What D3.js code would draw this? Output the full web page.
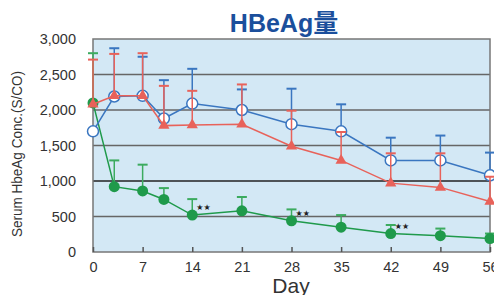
<!DOCTYPE html>
<html>
<head>
<meta charset="utf-8">
<script src="https://cdn.jsdelivr.net/npm/d3@7"></script>
<style>
  body { margin: 0; background: #fff; }
  svg { display: block; font-family: "Liberation Sans", Arial, sans-serif; }
</style>
</head>
<body>
<svg id="chart" width="494" height="295"></svg>
<script>
// days on x axis
const days = [0, 3, 7, 10, 14, 21, 28, 35, 42, 49, 56];
const xTicks = [0, 7, 14, 21, 28, 35, 42, 49, 56];
const yTicks = [0, 500, 1000, 1500, 2000, 2500, 3000];

// means and upper error bar ends (S/CO)
const blueVals = [1700, 2190, 2200, 1880, 2090, 2000, 1800, 1700, 1290, 1290, 1080];
const blueUpper = [null, 2870, 2750, 2420, 2580, 2290, 2300, 2080, 1610, 1640, 1400];
const redVals = [2080, 2200, 2200, 1780, 1790, 1800, 1490, 1290, 970, 910, 710];
const redUpper = [2710, 2790, 2800, 2340, 2270, 2360, 1990, 1690, 1390, 1390, 1060];
const greenVals = [2100, 920, 860, 740, 520, 580, 440, 350, 260, 230, 190];
const greenUpper = [2800, 1290, 1230, 900, 745, 775, 600, 520, 380, 330, 260];
const starDays = [14, 28, 42, 56];

const svg = d3.select("#chart");
const margin = { top: 39, right: 4, bottom: 43, left: 93 };
const width = 494 - margin.left - margin.right;
const height = 295 - margin.top - margin.bottom;

const x = d3.scaleLinear().domain([0, 56]).range([0, 397]);
const y = d3.scaleLinear().domain([0, 3000]).range([height, 0]);

// title
svg.append("text")
  .attr("x", 284).attr("y", 32)
  .attr("text-anchor", "middle")
  .attr("font-size", 25).attr("font-weight", "bold")
  .attr("fill", "#1b4f9c")
  .attr("font-family", "'Liberation Sans', 'Noto Sans CJK JP', sans-serif")
  .text("HBeAg量");

const g = svg.append("g").attr("transform", `translate(${margin.left},${margin.top})`);

g.append("rect")
  .attr("width", x(56)).attr("height", height)
  .attr("fill", "#d3e8f5");

// grid lines
g.selectAll(".grid")
  .data(yTicks.filter(d => d > 0 && d < 3000))
  .join("line")
  .attr("x1", 0).attr("x2", x(56))
  .attr("y1", d => y(d)).attr("y2", d => y(d))
  .attr("stroke", d => d === 1000 ? "#222" : "#666")
  .attr("stroke-width", 1.5);

// frame
g.append("rect")
  .attr("width", x(56)).attr("height", height)
  .attr("fill", "none").attr("stroke", "#777").attr("stroke-width", 1.5);

// y axis labels
g.selectAll(".ylab")
  .data(yTicks)
  .join("text")
  .attr("x", -17).attr("y", d => y(d) + 5)
  .attr("text-anchor", "end")
  .attr("font-size", 14.5).attr("fill", "#333")
  .text(d => d3.format(",")(d));

// x ticks
const xAxis = d3.axisBottom(x).tickValues(xTicks).tickSize(-5).tickPadding(10);
const xa = g.append("g").attr("transform", `translate(0,${height})`).call(xAxis);
xa.select(".domain").remove();
xa.selectAll(".tick line").attr("stroke", "#555").attr("stroke-width", 1.5);
xa.selectAll(".tick text").attr("font-size", 14.5).attr("fill", "#333")
  .attr("font-family", "'Liberation Sans', Arial, sans-serif");

// axis titles
svg.append("text")
  .attr("transform", "translate(22,154) rotate(-90)")
  .attr("text-anchor", "middle")
  .attr("font-size", 14).attr("fill", "#333")
  .attr("textLength", 166).attr("lengthAdjust", "spacingAndGlyphs")
  .text("Serum HbeAg Conc.(S/CO)");

svg.append("text")
  .attr("x", 291).attr("y", 293)
  .attr("text-anchor", "middle")
  .attr("font-size", 21).attr("fill", "#333")
  .text("Day");

const line = d3.line().x(d => x(d[0])).y(d => y(d[1]));

function drawSeries(vals, upper, color, barColor) {
  const pts = days.map((d, i) => [d, vals[i], upper[i]]);
  const bars = g.append("g");
  pts.filter(p => p[2] != null).forEach(p => {
    bars.append("line")
      .attr("x1", x(p[0])).attr("x2", x(p[0]))
      .attr("y1", y(p[1])).attr("y2", y(p[2]))
      .attr("stroke", barColor).attr("stroke-width", 1.5);
    bars.append("line")
      .attr("x1", x(p[0]) - 5).attr("x2", x(p[0]) + 5)
      .attr("y1", y(p[2])).attr("y2", y(p[2]))
      .attr("stroke", barColor).attr("stroke-width", 2);
  });
  g.append("path").datum(pts)
    .attr("d", line).attr("fill", "none")
    .attr("stroke", color).attr("stroke-width", 1.5);
  return pts;
}

// green
const gp = drawSeries(greenVals, greenUpper, "#1f9a4b", "#3cab5f");
g.selectAll(".gdot").data(gp).join("circle")
  .attr("cx", d => x(d[0])).attr("cy", d => y(d[1])).attr("r", 5.5)
  .attr("fill", "#1f9a4b");

// blue
const bp = drawSeries(blueVals, blueUpper, "#3a76c0", "#3a76c0");
g.selectAll(".bdot").data(bp).join("circle")
  .attr("cx", d => x(d[0])).attr("cy", d => y(d[1])).attr("r", 5.5)
  .attr("fill", "#fff").attr("stroke", "#3a76c0").attr("stroke-width", 1.5);

// red
const rp = drawSeries(redVals, redUpper, "#e8625a", "#e8625a");
g.selectAll(".rdot").data(rp).join("path")
  .attr("transform", d => `translate(${x(d[0])},${y(d[1])})`)
  .attr("d", d3.symbol(d3.symbolTriangle, 55))
  .attr("fill", "#e8625a");

// significance stars
g.selectAll(".star").data(starDays).join("text")
  .attr("x", d => x(d) + 4)
  .attr("y", d => y(greenVals[days.indexOf(d)]) - 5)
  .attr("font-size", 8).attr("fill", "#222")
  .attr("font-family", "'DejaVu Sans', sans-serif")
  .text("★★");
</script>
</body>
</html>
